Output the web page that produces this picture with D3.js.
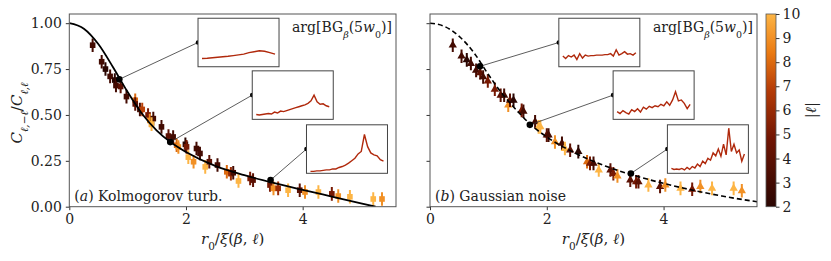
<!DOCTYPE html>
<html lang="en">
<head>
  <meta charset="UTF-8">
  <script src="https://cdn.jsdelivr.net/npm/d3@7"></script>
  <title>Correlation decay</title>
  <style>
    body { margin: 0; background: #fff; }
    svg text { font-family: "DejaVu Serif", "Liberation Serif", serif; fill: #222; }
  </style>
</head>
<body>
  <svg width="831" height="261"></svg>
  <script>
    // points: [r0/xi, C ratio, |l|]
    var kolmPoints = [
      [0.40, 0.88, 3], [0.555, 0.79, 3], [0.62, 0.75, 2], [0.70, 0.71, 3], [0.78, 0.69, 2],
      [0.80, 0.66, 3], [0.88, 0.655, 4], [0.98, 0.60, 3], [1.13, 0.58, 8], [1.13, 0.56, 4],
      [1.21, 0.53, 3], [1.25, 0.53, 7], [1.35, 0.50, 5], [1.38, 0.47, 9], [1.44, 0.48, 3],
      [1.41, 0.45, 10], [1.58, 0.435, 3], [1.70, 0.385, 4], [1.78, 0.38, 3], [1.84, 0.335, 8],
      [1.87, 0.325, 9], [1.99, 0.34, 2], [2.01, 0.326, 5], [2.04, 0.27, 10], [2.13, 0.245, 9],
      [2.18, 0.317, 3], [2.24, 0.29, 3], [2.33, 0.217, 10], [2.40, 0.245, 4], [2.54, 0.227, 3],
      [2.70, 0.19, 8], [2.77, 0.18, 6], [2.81, 0.185, 3], [2.90, 0.14, 10], [3.10, 0.154, 5],
      [3.15, 0.145, 4], [3.44, 0.118, 5], [3.50, 0.10, 9], [3.58, 0.10, 6], [3.75, 0.09, 10],
      [3.95, 0.09, 4], [4.04, 0.08, 9], [4.27, 0.08, 10], [4.50, 0.07, 5], [4.61, 0.058, 9],
      [4.81, 0.054, 10], [5.21, 0.042, 10], [5.36, 0.042, 9]
    ];
    var gaussPoints = [
      [0.39, 0.88, 3], [0.54, 0.82, 3], [0.63, 0.80, 2], [0.70, 0.78, 3], [0.79, 0.743, 3],
      [0.86, 0.73, 4], [0.91, 0.707, 3], [0.99, 0.685, 5], [1.11, 0.64, 5], [1.21, 0.607, 4],
      [1.27, 0.607, 3], [1.34, 0.553, 9], [1.37, 0.58, 4], [1.43, 0.58, 2], [1.57, 0.525, 5],
      [1.60, 0.52, 3], [1.80, 0.462, 3], [1.86, 0.435, 10], [1.89, 0.435, 10], [2.00, 0.39, 4],
      [2.03, 0.39, 3], [2.14, 0.353, 9], [2.26, 0.345, 3], [2.31, 0.317, 10], [2.40, 0.308, 4],
      [2.54, 0.30, 2], [2.69, 0.245, 8], [2.74, 0.236, 5], [2.80, 0.236, 3], [2.89, 0.20, 10],
      [3.09, 0.20, 4], [3.14, 0.18, 5], [3.21, 0.167, 9], [3.43, 0.145, 4], [3.53, 0.136, 5],
      [3.57, 0.136, 4], [3.74, 0.118, 10], [3.94, 0.11, 4], [4.03, 0.118, 9], [4.29, 0.10, 10],
      [4.49, 0.095, 5], [4.63, 0.11, 9], [4.83, 0.10, 10], [5.20, 0.10, 10], [5.34, 0.087, 9]
    ];
    var errBar = 0.037;

    var kolmCurve = [[0, 1], [0.25, 0.97], [0.5, 0.885], [0.75, 0.76], [1.0, 0.625], [1.25, 0.505],
      [1.5, 0.415], [1.75, 0.348], [2.0, 0.298], [2.5, 0.222], [3.0, 0.172], [3.5, 0.13],
      [4.0, 0.092], [4.5, 0.055], [5.0, 0.018], [5.25, 0]];
    var gaussCurve = [[0, 1], [0.25, 0.982], [0.5, 0.928], [0.75, 0.84], [1.0, 0.72], [1.25, 0.61],
      [1.5, 0.52], [1.75, 0.44], [2.0, 0.38], [2.5, 0.29], [3.0, 0.222], [3.5, 0.17],
      [4.0, 0.127], [4.5, 0.09], [5.0, 0.058], [5.6, 0.027]];

    var kolmDots = [[0.857, 0.694], [1.73, 0.352], [3.45, 0.145]];
    var gaussDots = [[0.857, 0.765], [1.71, 0.446], [3.44, 0.181]];

    var kolmInsets = [
      [0.17, 0.175, 0.185, 0.195, 0.205, 0.215, 0.23, 0.245, 0.26, 0.29, 0.31, 0.33, 0.32, 0.29, 0.26],
      [0.10, 0.09, 0.10, 0.11, 0.12, 0.11, 0.15, 0.13, 0.17, 0.16, 0.18, 0.20, 0.22, 0.24, 0.26,
        0.28, 0.30, 0.33, 0.38, 0.50, 0.36, 0.31, 0.32, 0.28, 0.26],
      [0.04, 0.04, 0.05, 0.05, 0.06, 0.07, 0.07, 0.09, 0.09, 0.12, 0.14, 0.17, 0.21, 0.26, 0.31,
        0.40, 0.45, 0.80, 0.55, 0.42, 0.38, 0.36, 0.28, 0.25]
    ];
    var gaussInsets = [
      [0.22, 0.17, 0.23, 0.20, 0.24, 0.15, 0.27, 0.18, 0.24, 0.22, 0.23, 0.23, 0.24, 0.24, 0.24,
        0.25, 0.25, 0.27, 0.22, 0.35, 0.24, 0.27, 0.31, 0.26, 0.27, 0.24, 0.29],
      [0.16, 0.12, 0.18, 0.14, 0.11, 0.20, 0.16, 0.22, 0.15, 0.25, 0.21, 0.27, 0.24, 0.28, 0.26,
        0.31, 0.28, 0.36, 0.29, 0.40, 0.57, 0.38, 0.40, 0.33, 0.22, 0.31],
      [0.10, 0.08, 0.09, 0.08, 0.10, 0.07, 0.12, 0.08, 0.14, 0.11, 0.19, 0.14, 0.25, 0.20, 0.31,
        0.27, 0.42, 0.36, 0.50, 0.35, 0.60, 0.38, 0.93, 0.45, 0.60, 0.42, 0.48, 0.25, 0.40]
    ];

    var xTicks = [0, 2, 4];
    var yTicks = [0, 0.25, 0.5, 0.75, 1.0];
    var cbTicks = [2, 3, 4, 5, 6, 7, 8, 9, 10];

    var svg = d3.select("svg");
    var top_ = 14, bottom = 206.7;

    // |l| colour map, dark brown -> light orange
    var color = d3.scaleLinear()
      .domain([2, 4.8, 6.8, 8.4, 10])
      .range(["#2a0602", "#701503", "#b33a07", "#ea7a12", "#fdb545"])
      .interpolate(d3.interpolateRgb);

    var y = d3.scaleLinear().domain([0, 1.05]).range([bottom, top_]);

    function panel(left, right, points, curve, dots, insets, marker, dashed, tag, name, showY) {
      var x = d3.scaleLinear().domain([0, 5.6]).range([left, right]);
      var g = svg.append("g");
      var clipId = "clip" + tag;
      svg.append("clipPath").attr("id", clipId).append("rect")
        .attr("x", left).attr("y", top_).attr("width", right - left).attr("height", bottom - top_);

      var pg = g.append("g").attr("clip-path", "url(#" + clipId + ")");
      var pts = pg.selectAll(".pt").data(points).enter().append("g");
      pts.append("line")
        .attr("x1", d => x(d[0])).attr("x2", d => x(d[0]))
        .attr("y1", d => y(d[1] - errBar)).attr("y2", d => y(d[1] + errBar))
        .attr("stroke", d => color(d[2])).attr("stroke-width", 2);
      if (marker == "square") {
        pts.append("rect")
          .attr("x", d => x(d[0]) - 2.8).attr("y", d => y(d[1]) - 2.8)
          .attr("width", 5.6).attr("height", 5.6)
          .attr("fill", d => color(d[2]));
      } else {
        pts.append("path")
          .attr("d", d3.symbol().type(d3.symbolTriangle).size(30))
          .attr("transform", d => "translate(" + x(d[0]) + "," + y(d[1]) + ")")
          .attr("fill", d => color(d[2]));
      }

      var line = d3.line().x(d => x(d[0])).y(d => y(d[1])).curve(d3.curveMonotoneX);
      pg.append("path").attr("d", line(curve))
        .attr("fill", "none").attr("stroke", "#000").attr("stroke-width", dashed ? 1.6 : 1.8)
        .attr("stroke-dasharray", dashed ? "5,3" : null);

      // insets with connector lines
      var W = right - left, H = bottom - top_;
      var boxes = [[0.394, 0.022], [0.56, 0.295], [0.726, 0.575]];
      boxes.forEach(function (b, i) {
        var bx = left + b[0] * W, by = top_ + b[1] * H, bw = 81, bh = 48.5;
        var ex = bx, ey = by + bh / 2;
        g.append("line").attr("x1", x(dots[i][0])).attr("y1", y(dots[i][1]))
          .attr("x2", ex).attr("y2", ey).attr("stroke", "#333").attr("stroke-width", 0.8);
        g.append("circle").attr("cx", x(dots[i][0])).attr("cy", y(dots[i][1])).attr("r", 3.3).attr("fill", "#000");
        g.append("circle").attr("cx", ex).attr("cy", ey).attr("r", 2.3).attr("fill", "#000");
        g.append("rect").attr("x", bx).attr("y", by).attr("width", bw).attr("height", bh)
          .attr("fill", "#fff").attr("stroke", "#444").attr("stroke-width", 1);
        var ix = d3.scaleLinear().domain([0, insets[i].length - 1]).range([bx + 4, bx + bw - 4]);
        var iy = d3.scaleLinear().domain([0, 1]).range([by + bh, by]);
        g.append("path").attr("d", d3.line().x((d, j) => ix(j)).y(d => iy(d))(insets[i]))
          .attr("fill", "none").attr("stroke", "#b0290c").attr("stroke-width", 1.4);
      });

      // axes
      var xa = g.append("g").attr("transform", "translate(0," + bottom + ")")
        .call(d3.axisBottom(x).tickValues(xTicks).tickSize(3.5).tickPadding(4).tickFormat(d3.format("d")));
      var ya = g.append("g").attr("transform", "translate(" + left + ",0)")
        .call(d3.axisLeft(y).tickValues(yTicks).tickSize(3.5).tickPadding(4)
          .tickFormat(showY ? d3.format(".2f") : ""));
      [xa, ya].forEach(function (a) {
        a.attr("font-family", null);
        a.select(".domain").remove();
        a.selectAll("line").attr("stroke", "#333");
        a.selectAll("text").style("font-size", "14px").attr("fill", "#222");
      });
      g.append("rect").attr("x", left).attr("y", top_).attr("width", W).attr("height", H)
        .attr("fill", "none").attr("stroke", "#555").attr("stroke-width", 1);

      g.append("text").attr("x", right - 4).attr("y", 32).attr("text-anchor", "end").style("font-size", "14px")
        .html('arg[BG<tspan baseline-shift="sub" font-size="9.5" font-style="italic">β</tspan>(5<tspan font-style="italic">w</tspan><tspan baseline-shift="sub" font-size="9.5">0</tspan>)]');
      g.append("text").attr("x", left + 5).attr("y", 201).style("font-size", "14px")
        .html('(<tspan font-style="italic">' + tag + '</tspan>) ' + name);
      g.append("text").attr("x", (left + right) / 2).attr("y", 244).attr("text-anchor", "middle").style("font-size", "15px")
        .html('<tspan font-style="italic">r</tspan><tspan baseline-shift="sub" font-size="10.5">0</tspan>/<tspan font-style="italic">ξ</tspan>(<tspan font-style="italic">β</tspan>, <tspan font-style="italic">ℓ</tspan>)');
    }

    panel(69.3, 396, kolmPoints, kolmCurve, kolmDots, kolmInsets, "square", false, "a", "Kolmogorov turb.", true);
    panel(430, 757, gaussPoints, gaussCurve, gaussDots, gaussInsets, "triangle", true, "b", "Gaussian noise", false);

    // y label
    svg.append("text").attr("transform", "translate(22,113) rotate(-90)")
      .attr("text-anchor", "middle").style("font-size", "15px")
      .html('<tspan font-style="italic">C</tspan><tspan baseline-shift="sub" font-size="10.5" font-style="italic">ℓ,−ℓ</tspan>/<tspan font-style="italic">C</tspan><tspan baseline-shift="sub" font-size="10.5" font-style="italic">ℓ,ℓ</tspan>');

    // colorbar
    var cbX = 766, cbW = 10;
    var cy = d3.scaleLinear().domain([2, 10]).range([bottom, top_]);
    var grad = svg.append("defs").append("linearGradient").attr("id", "cbg")
      .attr("x1", 0).attr("y1", 1).attr("x2", 0).attr("y2", 0);
    d3.range(0, 1.001, 0.05).forEach(function (t) {
      grad.append("stop").attr("offset", t).attr("stop-color", color(2 + 8 * t));
    });
    svg.append("rect").attr("x", cbX).attr("y", top_).attr("width", cbW).attr("height", bottom - top_)
      .attr("fill", "url(#cbg)").attr("stroke", "#555").attr("stroke-width", 0.8);
    var ca = svg.append("g").attr("transform", "translate(" + (cbX + cbW) + ",0)")
      .call(d3.axisRight(cy).tickValues(cbTicks).tickSize(3.5).tickPadding(3));
    ca.attr("font-family", null);
    ca.select(".domain").remove();
    ca.selectAll("line").attr("stroke", "#333");
    ca.selectAll("text").style("font-size", "14px").attr("fill", "#222");
    svg.append("text").attr("transform", "translate(816,110) rotate(-90)").attr("text-anchor", "middle")
      .style("font-size", "15px").html('|<tspan font-style="italic">ℓ</tspan>|');
  </script>
</body>
</html>
